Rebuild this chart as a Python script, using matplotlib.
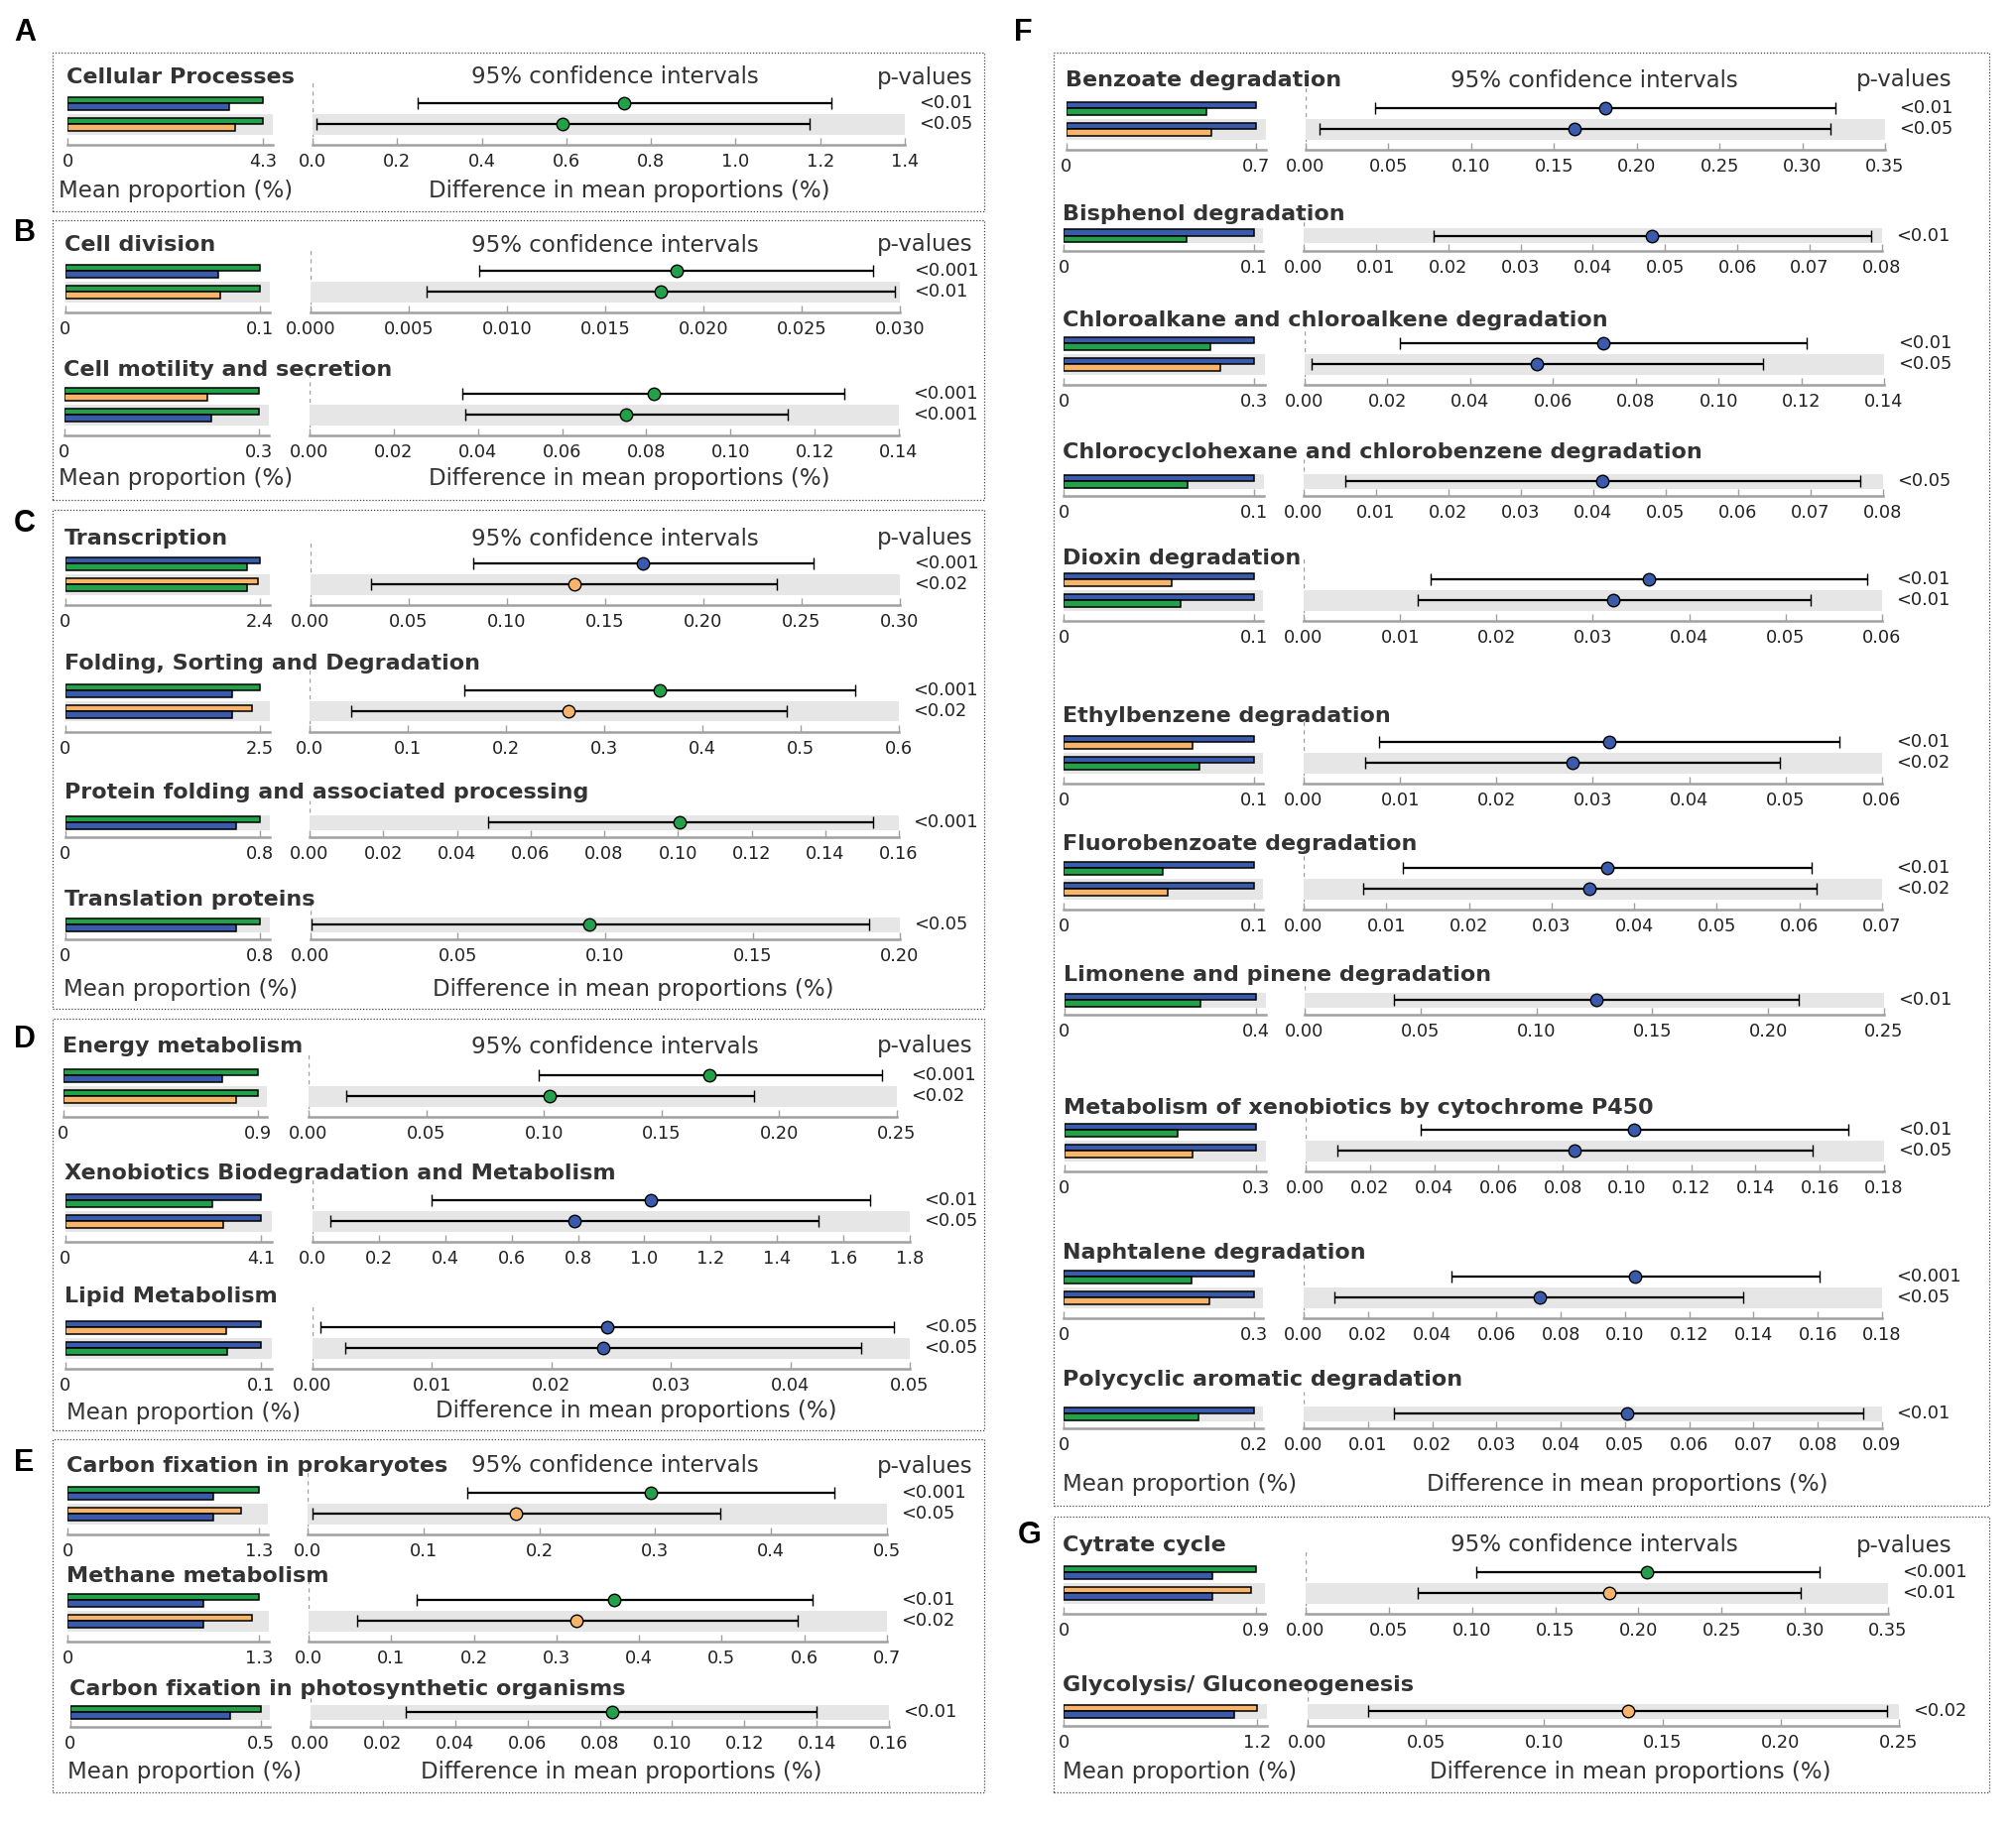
import numpy as np
import matplotlib
matplotlib.use('Agg')
import matplotlib.pyplot as plt
from matplotlib.patches import Rectangle

W, H = 2033, 1850
GREEN, BLUE, ORANGE = '#22a04a', '#3a5aab', '#f8b46a'
COL = {'G': GREEN, 'B': BLUE, 'O': ORANGE}
TXT = '#333333'

# ---------------- data ----------------
titles = [
    'Cellular Processes', 'Cell division', 'Cell motility and secretion',
    'Transcription', 'Folding, Sorting and Degradation',
    'Protein folding and associated processing', 'Translation proteins',
    'Energy metabolism', 'Xenobiotics Biodegradation and Metabolism', 'Lipid Metabolism',
    'Carbon fixation in prokaryotes', 'Methane metabolism',
    'Carbon fixation in photosynthetic organisms',
    'Benzoate degradation', 'Bisphenol degradation',
    'Chloroalkane and chloroalkene degradation',
    'Chlorocyclohexane and chlorobenzene degradation', 'Dioxin degradation',
    'Ethylbenzene degradation', 'Fluorobenzoate degradation',
    'Limonene and pinene degradation', 'Metabolism of xenobiotics by cytochrome P450',
    'Naphtalene degradation', 'Polycyclic aromatic degradation',
    'Cytrate cycle', 'Glycolysis/ Gluconeogenesis',
]

bar_max = [4.3, 0.1, 0.3, 2.4, 2.5, 0.8, 0.8, 0.9, 4.1, 0.1, 1.3, 1.3, 0.5,
           0.7, 0.1, 0.3, 0.1, 0.1, 0.1, 0.1, 0.4, 0.3, 0.3, 0.2, 0.9, 1.2]
bar_max_label = ['4.3', '0.1', '0.3', '2.4', '2.5', '0.8', '0.8', '0.9', '4.1', '0.1',
                 '1.3', '1.3', '0.5', '0.7', '0.1', '0.3', '0.1', '0.1', '0.1', '0.1',
                 '0.4', '0.3', '0.3', '0.2', '0.9', '1.2']

bar_groups = [
    [('G', 'B'), ('G', 'O')], [('G', 'B'), ('G', 'O')], [('G', 'O'), ('G', 'B')],
    [('B', 'G'), ('O', 'G')], [('G', 'B'), ('O', 'B')], [('G', 'B')], [('G', 'B')],
    [('G', 'B'), ('G', 'O')], [('B', 'G'), ('B', 'O')], [('B', 'O'), ('B', 'G')],
    [('G', 'B'), ('O', 'B')], [('G', 'B'), ('O', 'B')], [('G', 'B')],
    [('B', 'G'), ('B', 'O')], [('B', 'G')], [('B', 'G'), ('B', 'O')], [('B', 'G')],
    [('B', 'O'), ('B', 'G')], [('B', 'O'), ('B', 'G')], [('B', 'G'), ('B', 'O')],
    [('B', 'G')], [('B', 'G'), ('B', 'O')], [('B', 'G'), ('B', 'O')], [('B', 'G')],
    [('G', 'B'), ('O', 'B')], [('O', 'B')],
]

bar_values = [
    [(4.3, 3.56), (4.3, 3.69)], [(0.1, 0.0784), (0.1, 0.0794)], [(0.3, 0.2205), (0.3, 0.2265)],
    [(2.4, 2.24), (2.37, 2.24)], [(2.5, 2.14), (2.40, 2.14)], [(0.8, 0.704)], [(0.8, 0.704)],
    [(0.9, 0.735), (0.9, 0.801)], [(4.1, 3.08), (4.1, 3.30)], [(0.1, 0.0822), (0.1, 0.0825)],
    [(1.3, 0.993), (1.177, 0.993)], [(1.3, 0.923), (1.252, 0.923)], [(0.5, 0.419)],
    [(0.7, 0.515), (0.7, 0.534)], [(0.1, 0.0644)], [(0.3, 0.232), (0.3, 0.247)], [(0.1, 0.0652)],
    [(0.1, 0.0569), (0.1, 0.0614)], [(0.1, 0.0675), (0.1, 0.0712)], [(0.1, 0.0519), (0.1, 0.0549)],
    [(0.4, 0.284)], [(0.3, 0.177), (0.3, 0.200)], [(0.3, 0.201), (0.3, 0.230)], [(0.2, 0.1417)],
    [(0.9, 0.695), (0.876, 0.695)], [(1.2, 1.06)],
]

ci_mean = [
    [0.737, 0.592], [0.01863, 0.01784], [0.0817, 0.0751], [0.1692, 0.1341], [0.3562, 0.2635],
    [0.1006], [0.0947], [0.1705, 0.1025], [1.0197, 0.790], [0.02465, 0.02432],
    [0.2962, 0.1798], [0.3699, 0.3246], [0.0833],
    [0.1808, 0.1625], [0.0482], [0.0722, 0.0561], [0.0412], [0.0358, 0.0321],
    [0.0317, 0.0279], [0.0368, 0.0346], [0.1257], [0.1022, 0.0838], [0.1030, 0.0734],
    [0.0504], [0.2054, 0.1822], [0.1354],
]
ci_low = [
    [0.249, 0.009], [0.00858, 0.00591], [0.0363, 0.0371], [0.0828, 0.0306], [0.1577, 0.0421],
    [0.0484], [0.0002], [0.0976, 0.0162], [0.358, 0.0545], [0.0007, 0.00276],
    [0.1375, 0.0039], [0.1303, 0.0585], [0.0264],
    [0.0421, 0.0082], [0.018], [0.0231, 0.0016], [0.0058], [0.0132, 0.0118],
    [0.0078, 0.0064], [0.0120, 0.0072], [0.0384], [0.0357, 0.0100], [0.0459, 0.0096],
    [0.0140], [0.1023, 0.0671], [0.0254],
]
ci_high = [
    [1.227, 1.174], [0.02865, 0.02977], [0.1271, 0.1135], [0.2563, 0.2376], [0.5559, 0.4857],
    [0.153], [0.1897], [0.2437, 0.1894], [1.681, 1.5256], [0.0487, 0.0459],
    [0.4549, 0.3558], [0.6095, 0.5923], [0.140],
    [0.320, 0.3169], [0.0785], [0.1213, 0.1107], [0.0768], [0.0585, 0.0526],
    [0.0556, 0.0494], [0.0615, 0.0621], [0.213], [0.1688, 0.1577], [0.1604, 0.1367],
    [0.0870], [0.3089, 0.2973], [0.2451],
]
p_values = [
    ['<0.01', '<0.05'], ['<0.001', '<0.01'], ['<0.001', '<0.001'], ['<0.001', '<0.02'],
    ['<0.001', '<0.02'], ['<0.001'], ['<0.05'], ['<0.001', '<0.02'], ['<0.01', '<0.05'],
    ['<0.05', '<0.05'], ['<0.001', '<0.05'], ['<0.01', '<0.02'], ['<0.01'],
    ['<0.01', '<0.05'], ['<0.01'], ['<0.01', '<0.05'], ['<0.05'], ['<0.01', '<0.01'],
    ['<0.01', '<0.02'], ['<0.01', '<0.02'], ['<0.01'], ['<0.01', '<0.05'], ['<0.001', '<0.05'],
    ['<0.01'], ['<0.001', '<0.01'], ['<0.02'],
]
ci_max = [1.4, 0.030, 0.14, 0.30, 0.6, 0.16, 0.20, 0.25, 1.8, 0.05, 0.5, 0.7, 0.16,
          0.35, 0.08, 0.14, 0.08, 0.06, 0.06, 0.07, 0.25, 0.18, 0.18, 0.09, 0.35, 0.25]
ci_step = [0.2, 0.005, 0.02, 0.05, 0.1, 0.02, 0.05, 0.05, 0.2, 0.01, 0.1, 0.1, 0.02,
           0.05, 0.01, 0.02, 0.01, 0.01, 0.01, 0.01, 0.05, 0.02, 0.02, 0.01, 0.05, 0.05]
ci_dec = [1, 3, 2, 2, 1, 2, 2, 2, 1, 2, 1, 1, 2, 2, 2, 2, 2, 2, 2, 2, 2, 2, 2, 2, 2, 2]

# ---------------- layout (pixels) ----------------
# title_y, spine_y, bar_x0, bar_maxtick_x, bar_x1, ci_x0, ci_x1
layout = [
    (78, 146, 68, 265, 275, 315, 912),
    (247, 315, 66, 262, 272, 313, 907),
    (373, 439, 65, 261, 271, 312, 906),
    (543, 610, 66, 262, 272, 313, 907),
    (669, 738, 66, 262, 272, 312, 906),
    (799, 844, 66, 262, 272, 312, 906),
    (907, 947, 66, 262, 272, 313, 907),
    (1055, 1126, 64, 260, 269, 311, 904),
    (1183, 1252, 66, 263, 274, 315, 917),
    (1307, 1380, 66, 263, 274, 315, 917),
    (1478, 1547, 68, 261, 270, 310, 894),
    (1589, 1655, 68, 261, 271, 311, 894),
    (1703, 1741, 71, 263, 272, 313, 896),
    (81, 151, 1075, 1266, 1276, 1316, 1900),
    (216, 253, 1072, 1264, 1273, 1314, 1897),
    (323, 388, 1072, 1264, 1275, 1315, 1899),
    (456, 500, 1072, 1264, 1274, 1314, 1898),
    (563, 626, 1072, 1264, 1273, 1314, 1897),
    (722, 790, 1072, 1264, 1273, 1314, 1897),
    (851, 917, 1072, 1264, 1273, 1314, 1897),
    (983, 1023, 1073, 1266, 1276, 1315, 1899),
    (1117, 1181, 1073, 1266, 1276, 1316, 1899),
    (1263, 1329, 1072, 1264, 1273, 1314, 1897),
    (1391, 1440, 1072, 1264, 1273, 1314, 1897),
    (1558, 1627, 1072, 1266, 1275, 1316, 1903),
    (1699, 1740, 1072, 1267, 1277, 1318, 1914),
]
header_blocks = {0: (620, 981), 1: (620, 981), 3: (620, 981), 7: (620, 981),
                 10: (620, 981), 13: (1607, 1968), 24: (1607, 1968)}
# panel axis labels: (mean label left x, diff label centre x, y, y_diff)
axis_labels = [(59, 634, 193, 193), (59, 634, 483, 483), (64, 638, 997, 997),
               (67, 641, 1425, 1422), (68, 626, 1787, 1787), (1071, 1640, 1497, 1497),
               (1071, 1643, 1787, 1787)]
boxes = [(53, 53, 992, 213), (53, 222, 992, 504), (53, 514, 992, 1017),
         (53, 1027, 992, 1442), (53, 1451, 992, 1807), (1062, 53, 2005, 1518),
         (1062, 1529, 2005, 1807)]
letters = [('A', 14, 33), ('B', 14, 235), ('C', 14, 528), ('D', 14, 1048),
           ('E', 14, 1475), ('F', 1022, 33), ('G', 1026, 1548)]

GAP = 21
BH = 6.5
TOP_OFF = 22
TICK_FS = 12.8
TITLE_FS = 16
LABEL_FS = 16.5

plt.rcParams['font.family'] = ['DejaVu Sans']
fig = plt.figure(figsize=(W / 100, H / 100), dpi=100)
fig.patch.set_facecolor('white')


def fx(x):
    return x / W


def fy(y):
    return 1 - y / H


def style_axis(ax):
    for s in ('top', 'left', 'right'):
        ax.spines[s].set_visible(False)
    ax.spines['bottom'].set_color('#a0a0a0')
    ax.spines['bottom'].set_linewidth(1.8)
    ax.tick_params(axis='x', direction='in', length=5, width=1.0, color='#a0a0a0',
                   labelsize=TICK_FS, labelcolor='#222222', pad=6)
    ax.set_yticks([])
    ax.set_facecolor('none')


for i in range(len(titles)):
    ty, spine, bx0, bxm, bx1, cx0, cx1 = layout[i]
    n = len(bar_values[i])
    last = (n - 1) * GAP
    sp_gap = 21 if n == 2 else 15
    band_half = 10.5 if n == 2 else 7.5
    row0 = spine - sp_gap - last
    top = row0 - TOP_OFF
    hpx = spine - top

    # bar axis
    axb = fig.add_axes([fx(bx0), fy(spine), (bx1 - bx0) / W, hpx / H])
    style_axis(axb)
    axb.set_ylim(last + sp_gap, -TOP_OFF)
    axb.set_xlim(0, bar_max[i] * (bx1 - bx0) / (bxm - bx0))
    axb.axhspan(last - band_half, last + band_half, color='#e6e6e6', zorder=0, lw=0)
    for r in range(n):
        yc = r * GAP
        g1, g2 = bar_groups[i][r]
        v1, v2 = bar_values[i][r]
        axb.barh(yc - BH / 2, v1, height=BH, color=COL[g1], edgecolor='black', lw=1.1, zorder=2)
        axb.barh(yc + BH / 2, v2, height=BH, color=COL[g2], edgecolor='black', lw=1.1, zorder=2)
    axb.set_xticks([0, bar_max[i]])
    axb.set_xticklabels(['0', bar_max_label[i]])

    # CI axis
    axc = fig.add_axes([fx(cx0), fy(spine), (cx1 - cx0) / W, hpx / H])
    style_axis(axc)
    axc.set_ylim(last + sp_gap, -TOP_OFF)
    axc.set_xlim(0, ci_max[i])
    axc.axvline(0, color='#a0a0a0', lw=1.0, ls=(0, (3, 3)), zorder=0)
    axc.axhspan(last - band_half, last + band_half, color='#e6e6e6', zorder=1, lw=0)
    for r in range(n):
        yc = r * GAP
        m = ci_mean[i][r]
        axc.errorbar([m], [yc], xerr=[[m - ci_low[i][r]], [ci_high[i][r] - m]],
                     fmt='o', ecolor='black', elinewidth=1.6, capsize=4.5, capthick=1.2,
                     markerfacecolor=COL[bar_groups[i][r][0]], markeredgecolor='black',
                     markeredgewidth=1.0, markersize=9, zorder=3)
        fig.text(fx(cx1 + 14), fy(row0 + yc), p_values[i][r], fontsize=TICK_FS,
                 color='#222222', ha='left', va='center')
    ticks = np.arange(0, ci_max[i] + ci_step[i] / 2, ci_step[i])
    axc.set_xticks(ticks)
    axc.set_xticklabels([f'{t:.{ci_dec[i]}f}' for t in ticks])

    # title
    fig.text(fx(bx0 - 1), fy(ty), titles[i], fontsize=TITLE_FS, fontweight='bold',
             color=TXT, ha='left', va='center')
    if i in header_blocks:
        hx, px = header_blocks[i]
        fig.text(fx(hx), fy(ty), '95% confidence intervals', fontsize=LABEL_FS,
                 color=TXT, ha='center', va='center')
        fig.text(fx(px), fy(ty), 'p-values', fontsize=LABEL_FS, color=TXT,
                 ha='right', va='center')

for mx, dx, my, dy in axis_labels:
    fig.text(fx(mx), fy(my), 'Mean proportion (%)', fontsize=LABEL_FS, color=TXT,
             ha='left', va='center')
    fig.text(fx(dx), fy(dy), 'Difference in mean proportions (%)', fontsize=LABEL_FS,
             color=TXT, ha='center', va='center')

for x0, y0, x1, y1 in boxes:
    fig.add_artist(Rectangle((fx(x0), fy(y1)), (x1 - x0) / W, (y1 - y0) / H,
                             transform=fig.transFigure, fill=False, ls=(0, (1, 1.5)),
                             lw=0.9, ec='#444444'))

for t, x, y in letters:
    fig.text(fx(x), fy(y), t, fontsize=22, fontweight='bold', color='black',
             family=['Liberation Sans', 'DejaVu Sans'], ha='left', va='center')

fig.savefig('out.png', dpi=100, facecolor='white')
